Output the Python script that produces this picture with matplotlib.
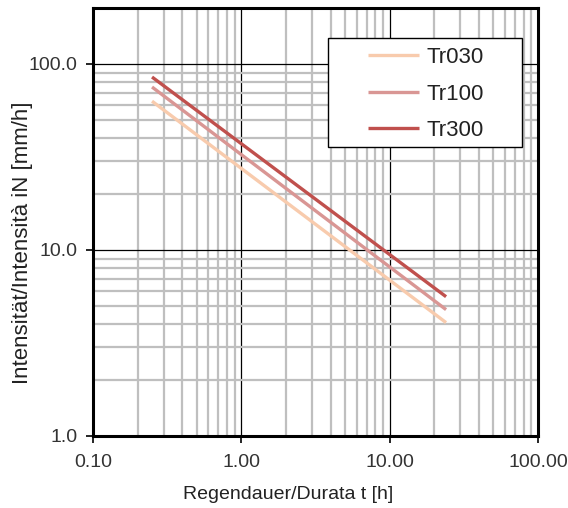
import numpy as np
import matplotlib.pyplot as plt
from matplotlib.patches import Rectangle
from matplotlib.ticker import FixedLocator, FuncFormatter, LogLocator, NullFormatter

plt.rcParams['font.family'] = ['Liberation Sans', 'DejaVu Sans']

# Data (duration in h, intensity in mm/h)
durata = [0.25, 24.0]
tr030 = [63.1, 4.07]
tr100 = [75.2, 4.78]
tr300 = [85.1, 5.61]

series = ["Tr030", "Tr100", "Tr300"]
colori = ["#F8CBAD", "#D99694", "#C0504D"]

W, H = 568, 508
fig = plt.figure(figsize=(W / 100, H / 100), dpi=100)
ax = fig.add_axes([93 / W, 1 - 436 / H, 445 / W, 428 / H])

for nome, vals, col in zip(series, [tr030, tr100, tr300], colori):
    ax.plot(durata, vals, color=col, lw=2.4, label=nome, solid_capstyle="butt")

ax.set_xscale("log")
ax.set_yscale("log")
ax.set_xlim(0.1, 100)
ax.set_ylim(1, 200)

# Ticks and grid
ax.xaxis.set_major_locator(FixedLocator([0.1, 1, 10, 100]))
ax.yaxis.set_major_locator(FixedLocator([1, 10, 100]))
ax.xaxis.set_minor_locator(LogLocator(base=10, subs=np.arange(2, 10), numticks=20))
ax.yaxis.set_minor_locator(LogLocator(base=10, subs=np.arange(2, 10), numticks=20))
ax.xaxis.set_minor_formatter(NullFormatter())
ax.yaxis.set_minor_formatter(NullFormatter())
ax.xaxis.set_major_formatter(FuncFormatter(lambda v, p: "{:.2f}".format(v)))
ax.yaxis.set_major_formatter(FuncFormatter(lambda v, p: "{:.1f}".format(v)))
ax.tick_params(which="major", direction="out", length=5, width=1.2, labelsize=14, colors="black")
ax.tick_params(which="minor", length=0)
ax.tick_params(axis="x", pad=8)
ax.tick_params(axis="y", pad=6)
for lbl in ax.get_xticklabels() + ax.get_yticklabels():
    lbl.set_color("#333333")

ax.grid(which="minor", color="#BFBFBF", lw=1.6)
ax.grid(which="major", color="black", lw=0.9)
ax.set_axisbelow(True)

for s in ax.spines.values():
    s.set_linewidth(2.2)
    s.set_color("black")

ax.set_xlabel("Regendauer/Durata t [h]", fontsize=14, color="#222222")
ax.set_ylabel("Intensität/Intensità iN [mm/h]", fontsize=16, color="#222222")
ax.xaxis.set_label_coords(0.438, -0.117)
ax.yaxis.set_label_coords(-0.135, 0.452)

# Legend box (frame drawn separately to get the wide side margins)
ax.add_patch(Rectangle((328 / W, 1 - 147 / H), 194 / W, 109 / H, transform=fig.transFigure,
                       facecolor="white", edgecolor="black", lw=1.0, zorder=5, clip_on=False))
leg = ax.legend(loc="upper left", bbox_to_anchor=(368 / W, 1 - 47 / H), bbox_transform=fig.transFigure,
                fontsize=16, frameon=False, handlelength=2.3, handletextpad=0.35,
                borderpad=0, labelspacing=0.7, borderaxespad=0)
leg.set_zorder(6)
for t in leg.get_texts():
    t.set_color("#222222")

plt.savefig("out.png", dpi=100)
